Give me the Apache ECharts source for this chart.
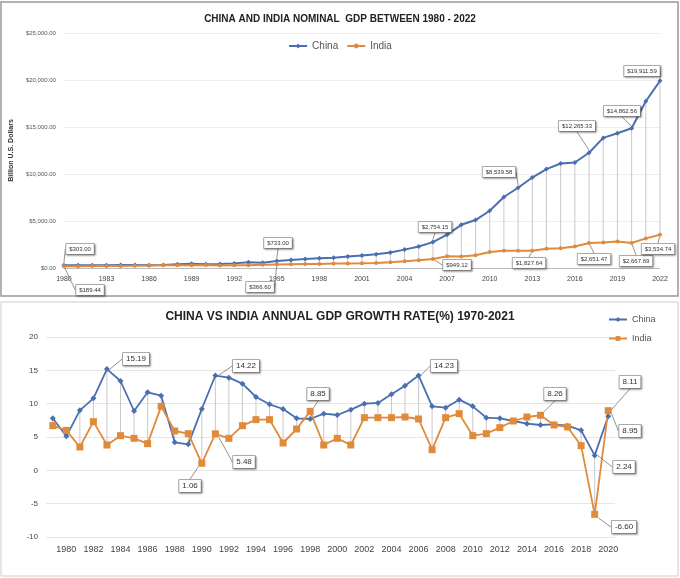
<!DOCTYPE html><html><head><meta charset="utf-8"><script src="https://cdn.jsdelivr.net/npm/echarts@6/dist/echarts.min.js"></script>
<style>html,body{margin:0;background:#fff}#c{width:680px;height:578px}</style></head><body><div id="c"></div><script>
const yearsTop=[];for(let y=1980;y<=2022;y++)yearsTop.push(String(y));
const chinaGdp=[303,290,281,304,314,310,300,327,407,456,396,413,492,620,564,733,863,961,1029,1094,1211,1339,1471,1660,1955,2286,2754.15,3550,4594,5101,6087,7552,8539.58,9624,10524,11113,11227,12265.33,13842,14340,14862.56,17734,19911.59];
const indiaGdp=[189.44,196,203,222,215,236,253,283,301,301,327,275,293,284,333,366.60,400,423,428,467,477,494,523,618,722,834,949.12,1239,1224,1365,1708,1823,1827,1827.64,2039,2103,2295,2651.47,2702,2831,2667.69,3150,3534.74];
const yearsBot=[];for(let y=1979;y<=2020;y++)yearsBot.push(String(y));
const chinaGr=[7.8,5.1,9.0,10.8,15.19,13.4,8.9,11.7,11.2,4.2,3.9,9.2,14.22,13.9,13.0,11.0,9.9,9.2,7.8,7.7,8.5,8.3,9.1,10.0,10.1,11.4,12.7,14.23,9.6,9.4,10.6,9.6,7.9,7.8,7.4,7.0,6.8,6.9,6.7,6.0,2.24,8.11];
const indiaGr=[6.7,6.0,3.5,7.3,3.8,5.2,4.8,4.0,9.6,5.9,5.5,1.06,5.48,4.8,6.7,7.6,7.6,4.1,6.2,8.85,3.8,4.8,3.8,7.9,7.9,7.9,8.0,7.7,3.1,7.9,8.5,5.2,5.5,6.4,7.4,8.0,8.26,6.8,6.5,3.7,-6.6,8.95];
const CH='#4a6fb0',IN='#e08a3c';
const topChinaLab={0:[80,249],15:[278,243],26:[435,227],32:[499,172],37:[577,126],40:[622,111],42:[642,71]};
const topIndiaLab={0:[90,290],15:[260,287],26:[457,265],33:[529,263],37:[594,259],40:[636,261],42:[658,249]};
const botChinaLab={4:[136,359],12:[246,366],27:[444,366],40:[624,467],41:[630,382]};
const botIndiaLab={11:[190,486],12:[244,462],19:[318,394],36:[555,394],40:[624,527],41:[630,431]};
const box={show:true,backgroundColor:'#fff',borderColor:'#999',borderWidth:0.8,padding:[2,3],shadowColor:'rgba(0,0,0,0.35)',shadowBlur:2,shadowOffsetX:1,shadowOffsetY:1,color:'#333',fontFamily:'Liberation Sans Narrow, Liberation Sans'};
function money(v){return '$'+v.toLocaleString('en-US',{minimumFractionDigits:2,maximumFractionDigits:2});}
function mk(vals,labs,fs,fmt){return vals.map((v,i)=>labs[i]?{value:v,label:Object.assign({},box,{fontSize:fs,formatter:fmt(v)})}:v);}
function lay(labs){return p=>{const q=labs[p.dataIndex];return q?{x:q[0],y:q[1],align:'center',verticalAlign:'middle'}:{};};}
function drops(a,b,xi,yi){return {type:'custom',xAxisIndex:xi,yAxisIndex:yi,silent:true,z:1,data:a.map((v,i)=>[i,v,b[i]]),
 renderItem:(p,api)=>{const s=api.coord([api.value(0),api.value(1)]),e=api.coord([api.value(0),api.value(2)]);
 return {type:'line',shape:{x1:s[0],y1:s[1],x2:e[0],y2:e[1]},style:{stroke:'#bbb',lineWidth:0.8}};}};}
const ll={show:true,lineStyle:{color:'#777',width:0.8},smooth:false};
const c=echarts.init(document.getElementById('c'));
c.setOption({animation:false,
title:[{text:'CHINA AND INDIA NOMINAL  GDP BETWEEN 1980 - 2022',left:'center',top:9,textStyle:{fontSize:10,fontWeight:'bold',color:'#222',fontFamily:'Liberation Sans Narrow, Liberation Sans'}},
 {text:'CHINA VS INDIA ANNUAL GDP GROWTH RATE(%) 1970-2021',left:'center',top:306,textStyle:{fontSize:12,fontWeight:'bold',color:'#222',letterSpacing:1}}],
legend:[{data:['China','India'],top:36,left:'center',itemWidth:18,itemHeight:6,itemGap:8,textStyle:{fontSize:10,color:'#555'},selectedMode:false},
 {data:[{name:'China '},{name:'India '}],orient:'vertical',left:603,top:310,itemWidth:18,itemHeight:6,itemGap:10,textStyle:{fontSize:9,color:'#555'},selectedMode:false}],
graphic:[{type:'rect',shape:{x:1,y:2,width:677,height:294},style:{fill:'none',stroke:'#999',lineWidth:1.5}},
 {type:'rect',shape:{x:1,y:302,width:677,height:274},style:{fill:'none',stroke:'#ccc',lineWidth:1}}],
grid:[{left:62,right:20,top:33,height:235},{left:46,right:65,top:337,height:200}],
xAxis:[{type:'category',gridIndex:0,data:yearsTop,boundaryGap:false,axisLine:{lineStyle:{color:'#bbb'}},axisTick:{show:false},axisLabel:{interval:2,fontSize:7,color:'#444'}},
 {type:'category',gridIndex:1,data:yearsBot,boundaryGap:true,axisLine:{show:false},axisTick:{show:false},axisLabel:{interval:(i,v)=>(+v)%2===0,fontSize:9,color:'#444',margin:8}}],
yAxis:[{type:'value',gridIndex:0,min:0,max:25000,interval:5000,name:'Billion U.S. Dollars',nameLocation:'middle',nameGap:47,nameTextStyle:{fontSize:7,fontWeight:'bold',color:'#333'},axisLabel:{fontSize:6,color:'#555',formatter:v=>money(v)},splitLine:{lineStyle:{color:'#eee'}}},
 {type:'value',gridIndex:1,min:-10,max:20,interval:5,axisLabel:{fontSize:8,color:'#444'},splitLine:{lineStyle:{color:'#e6e6e6'}}}],
series:[drops(indiaGdp,chinaGdp,0,0),drops(indiaGr,chinaGr,1,1),
 {name:'China',type:'line',xAxisIndex:0,yAxisIndex:0,data:mk(chinaGdp,topChinaLab,6,money),color:CH,symbol:'diamond',symbolSize:5,lineStyle:{width:2},labelLine:ll,labelLayout:lay(topChinaLab),z:3},
 {name:'India',type:'line',xAxisIndex:0,yAxisIndex:0,data:mk(indiaGdp,topIndiaLab,6,money),color:IN,symbol:'circle',symbolSize:4,lineStyle:{width:2},labelLine:ll,labelLayout:lay(topIndiaLab),z:3},
 {name:'China ',type:'line',xAxisIndex:1,yAxisIndex:1,data:mk(chinaGr,botChinaLab,8,v=>v.toFixed(2)),color:CH,symbol:'diamond',symbolSize:6,lineStyle:{width:1.8},labelLine:ll,labelLayout:lay(botChinaLab),z:3},
 {name:'India ',type:'line',xAxisIndex:1,yAxisIndex:1,data:mk(indiaGr,botIndiaLab,8,v=>v.toFixed(2)),color:IN,symbol:'rect',symbolSize:7,lineStyle:{width:1.8},labelLine:ll,labelLayout:lay(botIndiaLab),z:3}]
});
</script></body></html>
